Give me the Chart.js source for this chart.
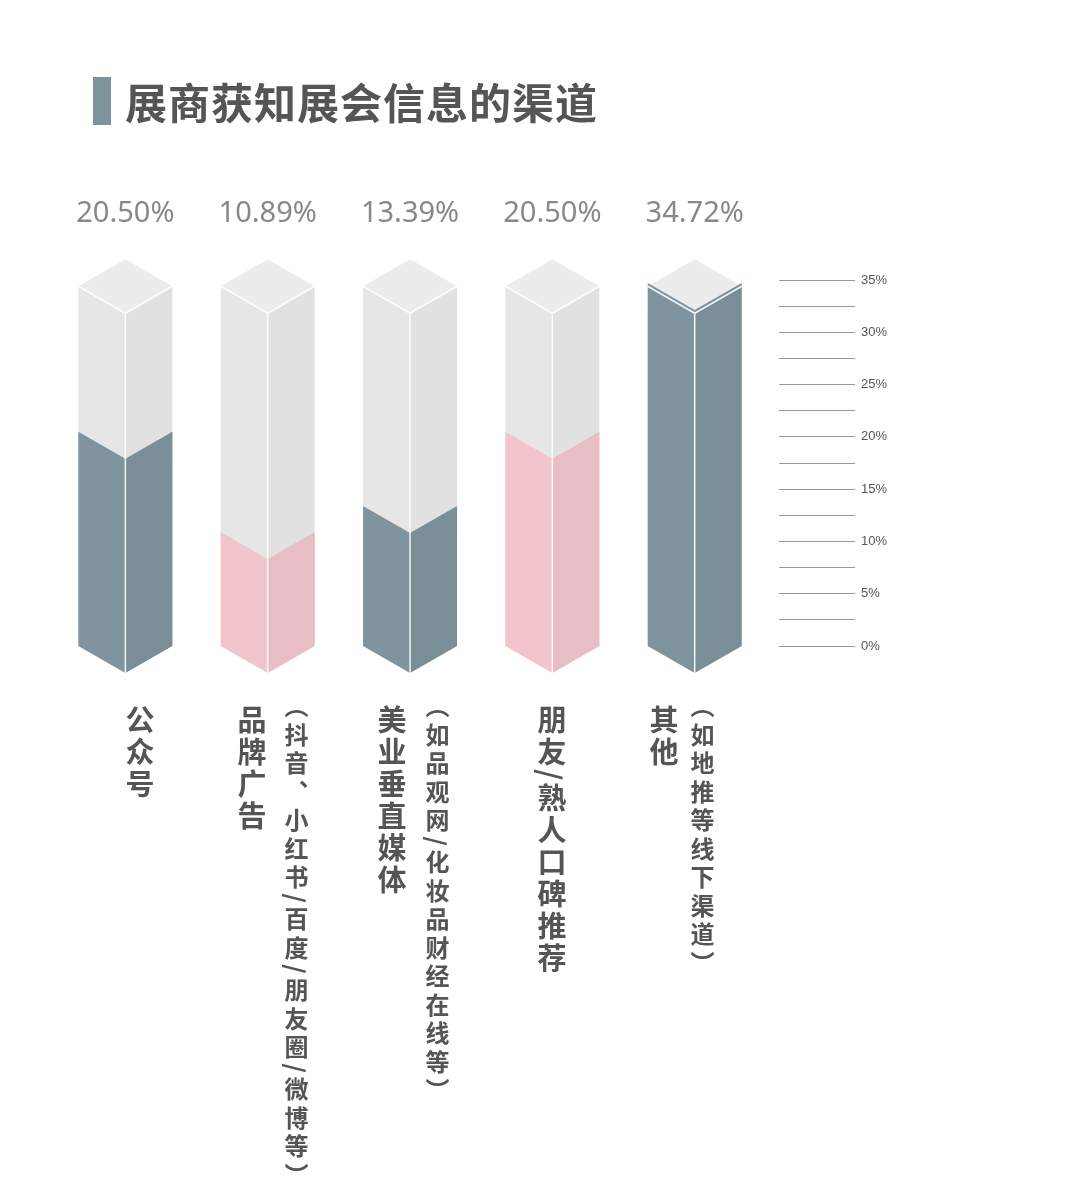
<!DOCTYPE html>
<html>
<head>
<meta charset="utf-8">
<script src="https://cdn.jsdelivr.net/npm/chart.js@4/dist/chart.umd.min.js"></script>
<style>
  body { margin: 0; background: #fff; width: 1080px; height: 1204px; position: relative; overflow: hidden;
         font-family: "Noto Sans CJK SC", sans-serif; }
  #c { position: absolute; left: 0; top: 0; }
  .title { position: absolute; left: 93px; top: 70px; font-size: 42px; font-weight: 700; color: #555;
           display: flex; align-items: center; letter-spacing: 1px; }
  .title i { display: inline-block; width: 18px; height: 48px; background: #7f939d; margin-right: 14px; }
  .lab { position: absolute; writing-mode: vertical-rl; color: #555; font-weight: 700; line-height: 1; }
  .main { font-size: 29px; top: 705px; letter-spacing: 3px; }
  .sub { font-size: 24px; top: 694px; letter-spacing: 4.5px; }
</style>
</head>
<body>
<canvas id="c" width="1080" height="1204"></canvas>
<div class="title"><i></i>展商获知展会信息的渠道</div>
<div id="labels"></div>
<script>
// --- 資料 ---
const categories = ['公众号', '品牌广告', '美业垂直媒体', '朋友/熟人口碑推荐', '其他'];
const subLabels = ['', '（抖音、小红书/百度/朋友圈/微博等）', '（如品观网/化妆品财经在线等）', '', '（如地推等线下渠道）'];
const values = [20.50, 10.89, 13.39, 20.50, 34.72];
const valueText = ['20.50%', '10.89%', '13.39%', '20.50%', '34.72%'];
const fillColors = ['#7f949e', '#f2c5cd', '#7f949e', '#f2c5cd', '#7f949e'];

const BG_TOP = 34.4;   // 背景柱頂端
const HALF_W = 47;     // 柱半寬
const DEPTH = 27;      // 菱形高度

function darken(hex, k) {
    const n = parseInt(hex.slice(1), 16);
    const r = Math.round(((n >> 16) & 255) * k), g = Math.round(((n >> 8) & 255) * k), b = Math.round((n & 255) * k);
    return `rgb(${r},${g},${b})`;
}

function poly(ctx, pts, color) {
    ctx.beginPath();
    pts.forEach((p, i) => i ? ctx.lineTo(p[0], p[1]) : ctx.moveTo(p[0], p[1]));
    ctx.closePath();
    ctx.fillStyle = color;
    ctx.fill();
}

// --- 立體柱 plugin ---
const prismPlugin = {
    id: 'prism',
    afterDatasetsDraw(chart) {
        const ctx = chart.ctx, xs = chart.scales.x, ys = chart.scales.y;
        const yBase = ys.getPixelForValue(0), yTop = ys.getPixelForValue(BG_TOP);
        values.forEach((v, i) => {
            const cx = xs.getPixelForValue(i), w = HALF_W, d = DEPTH;
            const yv = ys.getPixelForValue(v);
            ctx.save();
            // 背景
            poly(ctx, [[cx - w, yTop], [cx, yTop + d], [cx, yBase + d], [cx - w, yBase]], '#e6e6e6');
            poly(ctx, [[cx + w, yTop], [cx, yTop + d], [cx, yBase + d], [cx + w, yBase]], '#e1e1e1');
            poly(ctx, [[cx, yTop - d], [cx + w, yTop], [cx, yTop + d], [cx - w, yTop]], '#ececec');
            // 數值
            poly(ctx, [[cx - w, yv], [cx, yv + d], [cx, yBase + d], [cx - w, yBase]], fillColors[i]);
            poly(ctx, [[cx + w, yv], [cx, yv + d], [cx, yBase + d], [cx + w, yBase]], darken(fillColors[i], 0.96));
            // 邊線
            ctx.strokeStyle = 'rgba(255,255,255,0.9)';
            ctx.lineWidth = 1.5;
            ctx.beginPath();
            ctx.moveTo(cx - w, yTop); ctx.lineTo(cx, yTop + d); ctx.lineTo(cx + w, yTop);
            ctx.moveTo(cx, yTop + d); ctx.lineTo(cx, yBase + d);
            ctx.stroke();
            // 標籤
            ctx.fillStyle = '#888';
            ctx.font = '29px "Noto Sans", sans-serif';
            if ('fontStretch' in ctx) ctx.fontStretch = 'condensed';
            ctx.textAlign = 'center';
            ctx.textBaseline = 'middle';
            ctx.fillText(valueText[i], cx, 214);
            ctx.restore();
        });
    }
};

new Chart(document.getElementById('c'), {
    type: 'bar',
    data: {
        datasets: [{
            data: values.map((v, i) => ({ x: i, y: v })),
            backgroundColor: 'rgba(0,0,0,0)'
        }]
    },
    options: {
        responsive: false,
        animation: false,
        events: [],
        layout: { padding: { top: 280, bottom: 558, left: 72, right: 187 } },
        plugins: { legend: { display: false }, tooltip: { enabled: false } },
        scales: {
            x: { type: 'linear', min: -0.099, max: 4.316, display: false },
            y: {
                position: 'right', min: 0, max: 35,
                border: { display: false },
                grid: { drawOnChartArea: false, drawTicks: true, tickLength: 76, tickColor: '#999', lineWidth: 1 },
                ticks: {
                    stepSize: 2.5, padding: 6, color: '#555',
                    font: { size: 13, family: 'Liberation Sans' },
                    callback: v => v % 5 === 0 ? v + '%' : ''
                }
            }
        }
    },
    plugins: [prismPlugin]
});

// --- 直排類別標籤 ---
const mainX = [140, 252, 392, 552, 664];
const subX = [0, 297, 438, 0, 703];
const box = document.getElementById('labels');
categories.forEach((c, i) => {
    box.insertAdjacentHTML('beforeend', `<div class="lab main" style="left:${mainX[i] - 15}px">${c}</div>`);
    if (subLabels[i]) box.insertAdjacentHTML('beforeend', `<div class="lab sub" style="left:${subX[i] - 13}px">${subLabels[i]}</div>`);
});
</script>
</body>
</html>
